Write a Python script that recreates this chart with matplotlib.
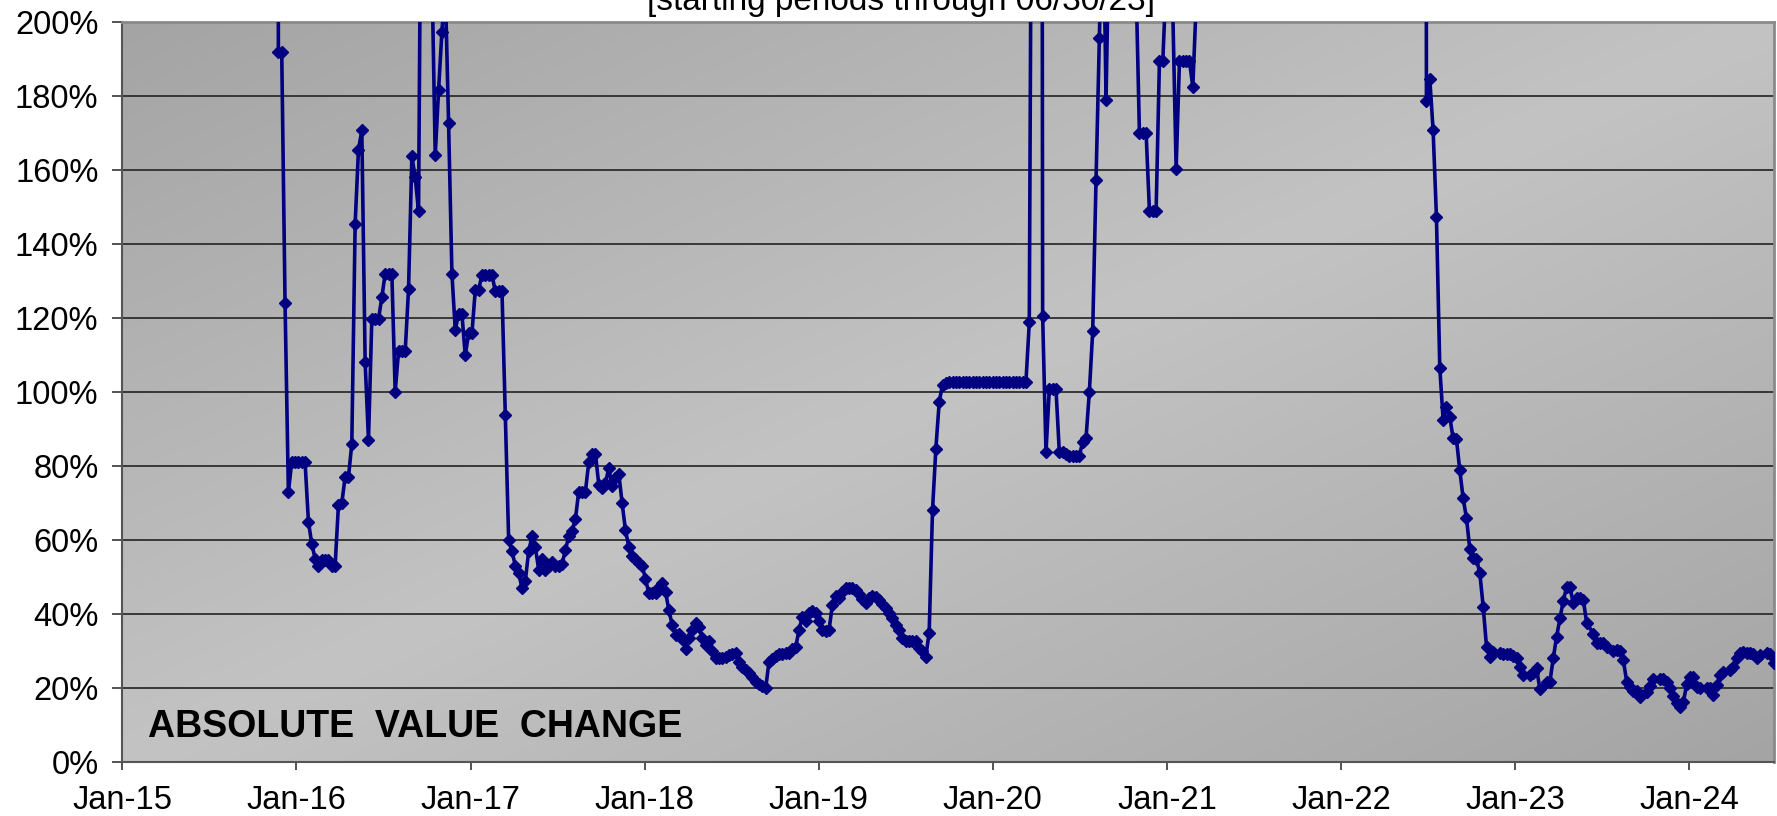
import numpy as np
import matplotlib
matplotlib.use("Agg")
import matplotlib.pyplot as plt
import matplotlib.dates as mdates

plt.rcParams['font.family'] = ['Liberation Sans', 'DejaVu Sans']

# weekly readings, week 0 = 2015-11-25, values in % (values > 200 run off the top of the chart)
start_date = '2015-11-25'
weeks = [-1, 0, 1, 2, 3, 4, 5, 6, 7, 8, 9, 10, 11, 12, 13, 14, 15, 16, 17, 18, 19,
         20, 21, 22, 23, 24, 25, 26, 27, 28, 29, 30, 31, 32, 33, 34, 35, 36, 37, 38, 39,
         40, 41, 42, 43, 44, 45, 46, 47, 48, 49, 50, 51, 52, 53, 54, 55, 56, 57, 58, 59,
         60, 61, 62, 63, 64, 65, 66, 67, 68, 69, 70, 71, 72, 73, 74, 75, 76, 77, 78, 79,
         80, 81, 82, 83, 84, 85, 86, 87, 88, 89, 90, 91, 92, 93, 94, 95, 96, 97, 98, 99,
         100, 101, 102, 103, 104, 105, 106, 107, 108, 109, 110, 111, 112, 113, 114, 115, 116, 117, 118, 119,
         120, 121, 122, 123, 124, 125, 126, 127, 128, 129, 130, 131, 132, 133, 134, 135, 136, 137, 138, 139,
         140, 141, 142, 143, 144, 145, 146, 147, 148, 149, 150, 151, 152, 153, 154, 155, 156, 157, 158, 159,
         160, 161, 162, 163, 164, 165, 166, 167, 168, 169, 170, 171, 172, 173, 174, 175, 176, 177, 178, 179,
         180, 181, 182, 183, 184, 185, 186, 187, 188, 189, 190, 191, 192, 193, 194, 195, 196, 197, 198, 199,
         200, 201, 202, 203, 204, 205, 206, 207, 208, 209, 210, 211, 212, 213, 214, 215, 216, 217, 218, 219,
         220, 221, 222, 223, 224, 225, 226, 227, 228, 229, 230, 231, 232, 233, 234, 235, 236, 237, 238, 239,
         240, 241, 242, 243, 244, 245, 246, 247, 248, 249, 250, 253, 256, 257, 258, 259,
         260, 261, 262, 263, 264, 265, 266, 267, 268, 269, 270, 271, 272, 273, 274, 275, 276,
         290, 305, 320, 335, 343, 344, 345, 346, 347, 348, 349,
         350, 351, 352, 353, 354, 355, 356, 357, 358, 359, 360, 361, 362, 363, 364, 366, 367, 368, 369,
         370, 371, 372, 373, 375, 376, 377, 378, 380, 381, 382, 383, 384, 385, 386, 387, 388, 389,
         390, 391, 392, 394, 395, 396, 397, 398, 400, 401, 402, 403, 404, 405, 406, 407, 408,
         410, 411, 412, 414, 415, 416, 417, 418, 419, 420, 421, 422, 423, 424, 425, 426, 428, 429,
         430, 431, 432, 433, 435, 436, 437, 438, 439, 440, 441, 442, 443, 444, 446, 447, 448]
pct = [900, 192, 192, 124, 73, 81, 81, 81, 81, 81, 65, 59, 55, 53, 54.5, 54.5, 54.5, 53, 53, 69.5, 70,
       77, 77, 86, 145.4, 165.5, 170.7, 108, 87, 119.7, 119.7, 119.7, 125.6, 132, 132, 132, 100, 111, 111, 111, 127.8,
       163.7, 158, 148.8, 280, 500, 600, 214, 164, 181.6, 197.4, 210, 172.6, 132, 116.8, 121, 121, 109.9, 115.9, 115.9, 127.6,
       127.6, 131.7, 131.7, 131.7, 131.7, 127.2, 127.2, 127.2, 93.8, 60, 57, 53, 51, 47, 49, 57, 61, 58, 52, 55,
       52, 53, 54, 53, 53, 53.5, 57.3, 61, 62.3, 65.7, 73.1, 73.1, 73.1, 81, 83.3, 83.3, 75, 74, 75.4, 79.4,
       74.5, 76.7, 77.9, 70, 62.6, 58.2, 55.7, 54.8, 53.7, 53, 49.5, 45.6, 45.6, 45.6, 47.4, 48.5, 46, 41.1, 37, 34.3,
       34.5, 33.2, 30.5, 33.5, 35.7, 37.7, 36.6, 33.5, 31.6, 32.8, 30.1, 28, 28, 28, 28.5, 28.8, 29.1, 29.4, 27.1, 25.8,
       24.9, 24, 23.1, 21.5, 21.1, 20.6, 19.9, 27, 27.9, 28.7, 29.2, 29.2, 29.4, 29.4, 30.5, 31, 35.7, 39.3, 38, 40.2,
       40.9, 40.2, 38, 35.7, 35.5, 35.7, 42.5, 44.9, 44.3, 46, 47, 47.1, 47.1, 46.5, 45.4, 44.1, 43.1, 44.3, 44.9, 44.7,
       43.8, 42.7, 41.6, 40.2, 38.9, 36.9, 35.7, 33.5, 32.8, 32.8, 32.8, 32.8, 30.7, 30.1, 28.5, 35, 68, 84.6, 97.2, 102,
       102.5, 102.6, 102.6, 102.7, 102.7, 102.7, 102.7, 102.7, 102.7, 102.7, 102.7, 102.7, 102.7, 102.7, 102.7, 102.7, 102.8, 102.8, 102.8, 102.8,
       102.8, 102.8, 102.8, 102.8, 102.8, 118.8, 320, 700, 900, 120.6, 83.7, 100.8, 100.8, 100.8, 83.7, 83.7, 83.3, 82.7, 82.7, 82.7,
       82.7, 86.6, 87.5, 100.1, 116.4, 157.4, 195.7, 240, 179, 230, 500, 700, 500, 210, 170, 170,
       170, 149, 149, 149, 189.4, 189.4, 211, 230, 203, 160.4, 189.4, 189.4, 189.4, 189.4, 182.4, 205, 450,
       800, 950, 1000, 900, 900, 178.6, 184.7, 170.7, 147.3, 106.6, 92.5,
       95.9, 93.2, 87.5, 87.2, 78.8, 71.3, 65.9, 57.5, 55.1, 54.9, 51, 42, 31.2, 28.3, 29.8, 29.5, 29.2, 29.2, 29.2,
       28.6, 28, 25.6, 23.5, 23.5, 24, 25.3, 19.6, 21.7, 21.7, 28, 33.9, 38.8, 43.6, 47.2, 47.2, 43, 44.2,
       44.2, 43.8, 37.7, 34.6, 32.1, 32.1, 32.1, 31.2, 30.1, 30.4, 30.1, 27.6, 21.7, 20.3, 19.3, 19.3, 17.6,
       19, 20.5, 22.3, 22.3, 22.3, 21.7, 19.9, 17.8, 16, 14.9, 16.3, 21.1, 23.1, 23.1, 20.3, 19.9, 19.9, 19.9,
       18.1, 20.8, 23.5, 24.4, 25, 25.8, 28, 29.5, 29.8, 29.5, 29.4, 29.2, 28, 28.9, 29.4, 29.2, 26.7]

y_ticks = [0, 20, 40, 60, 80, 100, 120, 140, 160, 180, 200]
x_ticks = ['2015-01-01', '2016-01-01', '2017-01-01', '2018-01-01', '2019-01-01',
           '2020-01-01', '2021-01-01', '2022-01-01', '2023-01-01', '2024-01-01']
x_range = ('2015-01-01', '2024-06-27')
label_text = 'ABSOLUTE  VALUE  CHANGE'
title_text = '[starting periods through 06/30/23]'

dates = np.datetime64(start_date) + np.array(weeks) * np.timedelta64(7, 'D')

fig = plt.figure(figsize=(17.77, 8.16), dpi=100)
ax = fig.add_axes([122 / 1777, 1 - 762 / 816, 1652 / 1777, 740 / 816])

# diagonal grey gradient for the plot area
u, v = np.meshgrid(np.linspace(0, 1, 400), np.linspace(1, 0, 200))
s = np.abs(u - v)
shade = (0xc3 - (0xc3 - 0xa4) * s) / 255.0
ax.imshow(np.dstack([shade, shade, shade]), extent=[0, 1, 0, 1], transform=ax.transAxes,
          aspect='auto', zorder=0, interpolation='bilinear')

ax.plot(dates, pct, color='#000080', lw=2.6, marker='D', ms=6, mec='#000080',
        mfc='#000080', zorder=3)

ax.set_ylim(0, 200)
ax.set_xlim(np.datetime64(x_range[0]), np.datetime64(x_range[1]))
ax.set_yticks(y_ticks)
ax.set_yticklabels([f'{t}%' for t in y_ticks])
ax.set_xticks([np.datetime64(d) for d in x_ticks])
ax.xaxis.set_major_formatter(mdates.DateFormatter('%b-%y'))

ax.set_axisbelow(True)
ax.yaxis.grid(True, color='#2e2e2e', lw=1.3, zorder=1)
ax.xaxis.grid(False)

for side in ['top', 'right']:
    ax.spines[side].set_color('#8a8a8a')
    ax.spines[side].set_linewidth(2.0)
for side in ['left', 'bottom']:
    ax.spines[side].set_color('#555555')
    ax.spines[side].set_linewidth(1.5)

ax.tick_params(axis='y', direction='out', length=7, width=1.3, color='#444444',
               labelsize=23.5, pad=10)
ax.tick_params(axis='x', direction='out', length=5.5, width=1.3, color='#444444',
               labelsize=23.5, pad=11)

ax.text(0.0157, 6.8, label_text, transform=ax.get_yaxis_transform(),
        fontsize=27, fontweight='bold', ha='left', va='baseline', zorder=4)

fig.text(901 / 1777, 1 - 10 / 816, title_text, fontsize=24, ha='center', va='baseline')

fig.savefig('out.png', dpi=100)
